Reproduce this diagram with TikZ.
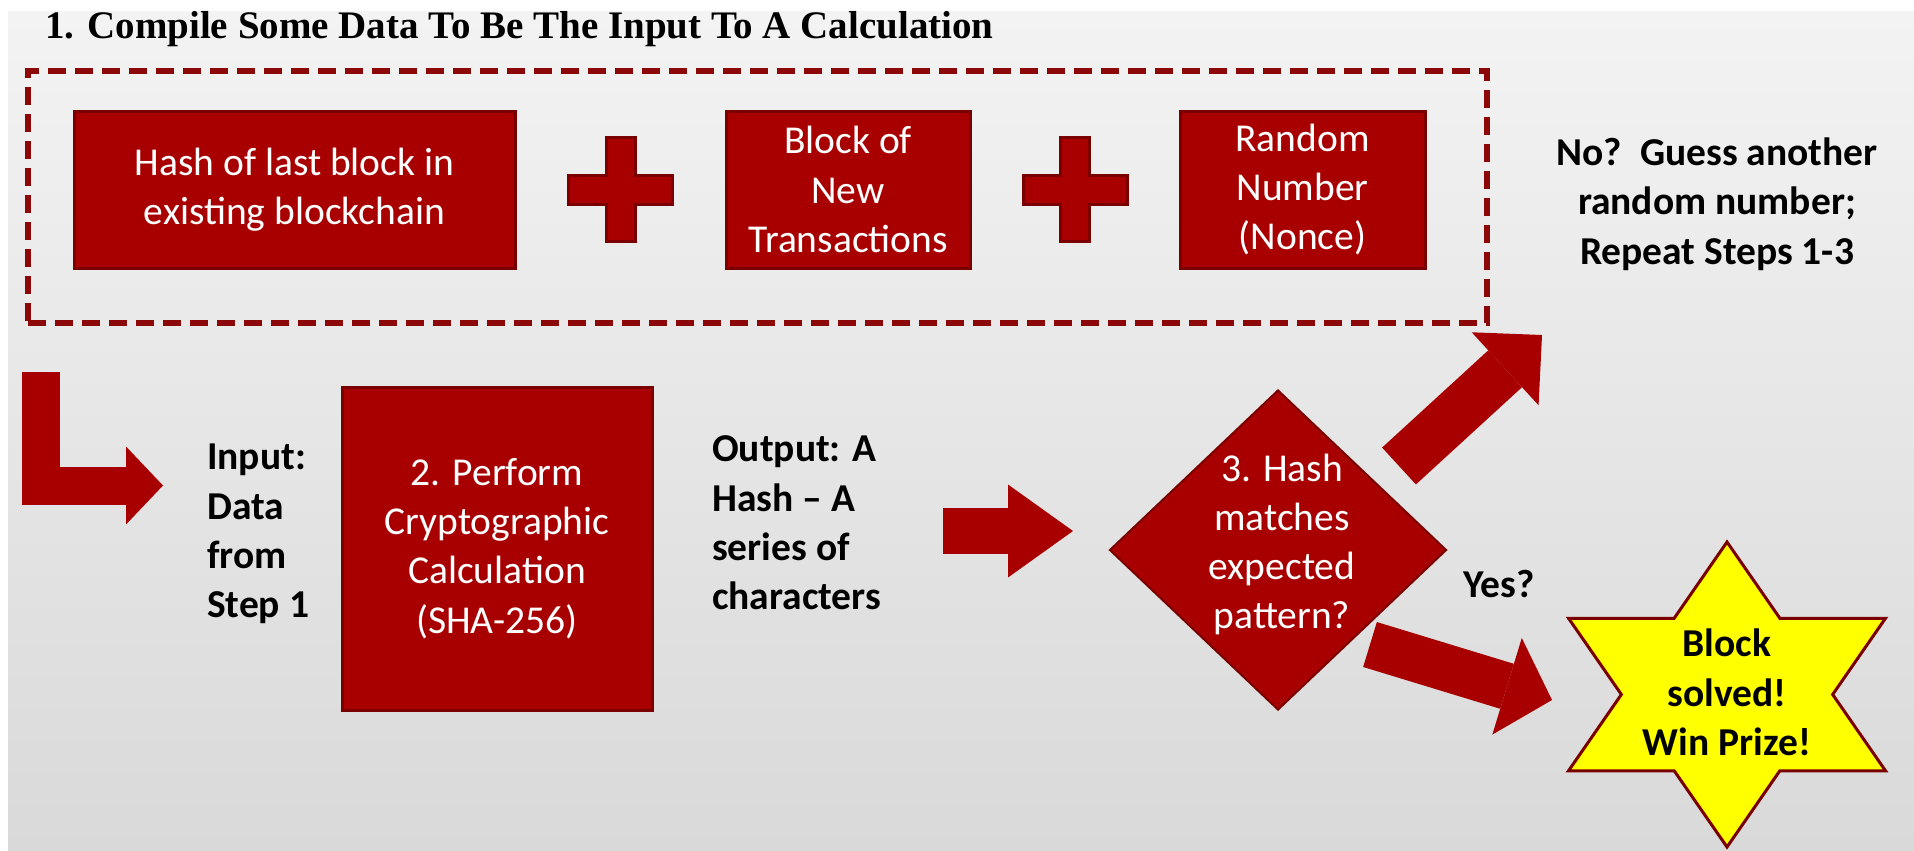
\documentclass[tikz,border=0pt]{standalone}
\usepackage{fontspec}
\setmainfont{Carlito}
\newfontfamily\titlefont{Liberation Serif}
\usetikzlibrary{calc}
\usetikzlibrary{arrows.meta}
\usetikzlibrary{positioning}
\usetikzlibrary{shapes.geometric}
\usepackage{xcolor}

\definecolor{boxred}{RGB}{168,0,0}
\definecolor{edgered}{RGB}{122,0,0}
\definecolor{dashred}{RGB}{140,8,8}
\definecolor{bgtop}{RGB}{243,243,243}
\definecolor{bgbot}{RGB}{217,217,217}
\definecolor{staryellow}{RGB}{255,255,0}

\newcommand{\slidefont}{\fontsize{39.5pt}{49.3pt}\selectfont}

\tikzset{
  redbox/.style={draw=edgered, line width=3pt, fill=boxred, text=white, align=center, inner sep=0pt, font=\slidefont},
  dashframe/.style={draw=dashred, line width=6pt, dash pattern=on 18pt off 9pt},
  plussign/.style={draw=edgered, line width=3pt, fill=boxred},
  decision/.style={diamond, draw=edgered, line width=2pt, fill=boxred, inner sep=0pt},
  whitetext/.style={text=white, align=center, font=\slidefont, inner sep=0pt},
  blacktext/.style={text=black, align=center, font=\slidefont\bfseries, inner sep=0pt},
  prize/.style={draw=edgered, line width=3pt, fill=staryellow},
  bigarrow/.style n args={3}{draw=boxred, line width=#1pt, line join=miter,
    -{Triangle[length=#2pt, width=#3pt, line width=0pt, fill=boxred]}},
}

\begin{document}
\begin{tikzpicture}[x=1pt, y=-1pt]
\fill[white] (0,0) rectangle (1914,851);
\shade[top color=bgtop, bottom color=bgbot] (8,12) rectangle (1914,851);
\useasboundingbox (0,0) rectangle (1914,851);

\node[anchor=base west, inner sep=0pt, font=\titlefont\bfseries\fontsize{39pt}{47pt}\selectfont] (title) at (45,39) {1. Compile Some Data To Be The Input To A Calculation};

% step 1
\node[dashframe, minimum width=1459pt, minimum height=252pt] (compile) at (757.5,197) {};

\node[redbox, minimum width=441pt, minimum height=157pt] (prevhash) at (294.5,189.5) {Hash of last block in\\existing blockchain};
\node[redbox, minimum width=244pt, minimum height=157pt, right=208pt of prevhash] (newtx) {Block of\\New\\Transactions};
\node[redbox, minimum width=245pt, minimum height=157pt, right=207pt of newtx] (nonce) {Random\\Number\\(Nonce)};

\foreach \a/\b in {prevhash/newtx, newtx/nonce}
  \draw[plussign] ($(\a.east)!0.5!(\b.west)$) ++(-52,-14.5) -- ++(37.5,0) -- ++(0,-37.5) -- ++(29,0)
    -- ++(0,37.5) -- ++(37.5,0) -- ++(0,29) -- ++(-37.5,0) -- ++(0,37.5) -- ++(-29,0)
    -- ++(0,-37.5) -- ++(-37.5,0) -- cycle;

\node[blacktext] (retry) at (1717,204) {No?\ \ Guess another\\random number;\\Repeat Steps 1-3};

% step 2
\node[blacktext, align=left, anchor=west] (input) at (207,534) {Input:\\Data\\from\\Step 1};
\node[redbox, minimum width=310pt, minimum height=323pt] (sha) at (497,548.5) {2. Perform\\Cryptographic\\Calculation\\(SHA-256)};
\node[blacktext, align=left, anchor=west] (output) at (712,523) {Output: A\\Hash -- A\\series of\\characters};

% step 3
\node[decision, minimum width=337pt, minimum height=320pt] (check) at (1278,550) {};
\node[whitetext] (checktext) at (1282,544.5) {3. Hash\\matches\\expected\\pattern?};

\node[blacktext, anchor=base] (yes) at (1499,597) {Yes?};

\coordinate (prizec) at (1727,694.5);
\begin{scope}[shift={(prizec)}, xscale=1.2]
  \draw[prize] (90:152.5) \foreach \i in {1,...,11} { -- ({90+30*\i}:{mod(\i,2)==0 ? 152.5 : 88.05}) } -- cycle;
\end{scope}
\node[blacktext] (win) at (1727,692.5) {Block\\solved!\\Win Prize!};

\coordinate (loopA) at (41,372);
\coordinate (loopB) at (163,485.5);
\coordinate (outA) at (943,531);
\coordinate (outB) at (1073,531);
\coordinate (noA) at (1399,466);
\coordinate (noB) at (1542,335);
\coordinate (yesA) at (1370,644.5);
\coordinate (yesB) at (1552,700);

\draw[bigarrow={38}{37}{78}] (loopA) |- (loopB);
\draw[bigarrow={46}{65}{93}] (outA) -- (outB);
\draw[bigarrow={50}{50}{99}] (noA) -- (noB);
\draw[bigarrow={47}{47}{101}] (yesA) -- (yesB);

\end{tikzpicture}
\end{document}
